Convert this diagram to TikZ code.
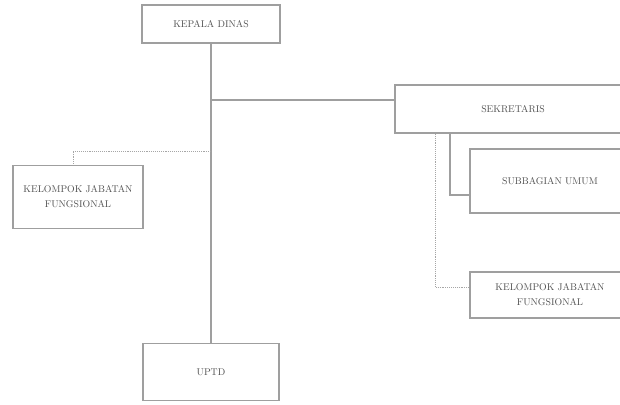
\documentclass[tikz,border=0pt]{standalone}
\begin{document}
\begin{tikzpicture}[x=1pt,y=-1pt,
    box/.style={draw=gray!75, line width=1.8pt, fill=white, align=center,
      inner sep=0pt, text=gray!65!black, font=\fontsize{9.8}{15}\selectfont},
    solidline/.style={draw=gray!75, line width=2pt},
    dotline/.style={draw=gray!70, line width=0.9pt, densely dotted}]

    \useasboundingbox (0,0) rectangle (620,404);
    \clip (0,0) rectangle (620,404);

    % Boxes
    \node[box, minimum width=138pt, minimum height=38pt] (kadis) at (211,24) {KEPALA DINAS};
    \node[box, minimum width=236pt, minimum height=48pt] (sek) at (513,109) {SEKRETARIS};
    \node[box, minimum width=160pt, minimum height=64pt] (subum) at (550,181) {SUBBAGIAN UMUM};
    \node[box, minimum width=160pt, minimum height=46pt] (kjfsek) at (550,295) {KELOMPOK JABATAN\\FUNGSIONAL};
    \node[box, minimum width=130pt, minimum height=63pt] (kjf) at (78,197) {KELOMPOK JABATAN\\FUNGSIONAL};
    \node[box, minimum width=136pt, minimum height=57pt] (uptd) at (211,372) {UPTD};

    % Trunk Kepala Dinas - UPTD
    \draw[solidline] (kadis.south) -- (kadis.south |- uptd.north);

    % Line to Sekretaris
    \coordinate (jsek) at (211,100);
    \draw[solidline] (jsek) -- (jsek -| sek.west);

    % Dotted line to Kelompok Jabatan Fungsional (left)
    \coordinate (jkjf) at (211,151);
    \draw[dotline] (jkjf) -| ([xshift=-5pt]kjf.north);

    % Sekretaris - Subbagian Umum
    \draw[solidline] ([xshift=-63pt]sek.south) |- ([yshift=-14pt]subum.west);

    % Dotted line Sekretaris - Kelompok Jabatan Fungsional
    \draw[dotline] ([xshift=-78pt]sek.south) |- ([yshift=8pt]kjfsek.west);
\end{tikzpicture}
\end{document}
